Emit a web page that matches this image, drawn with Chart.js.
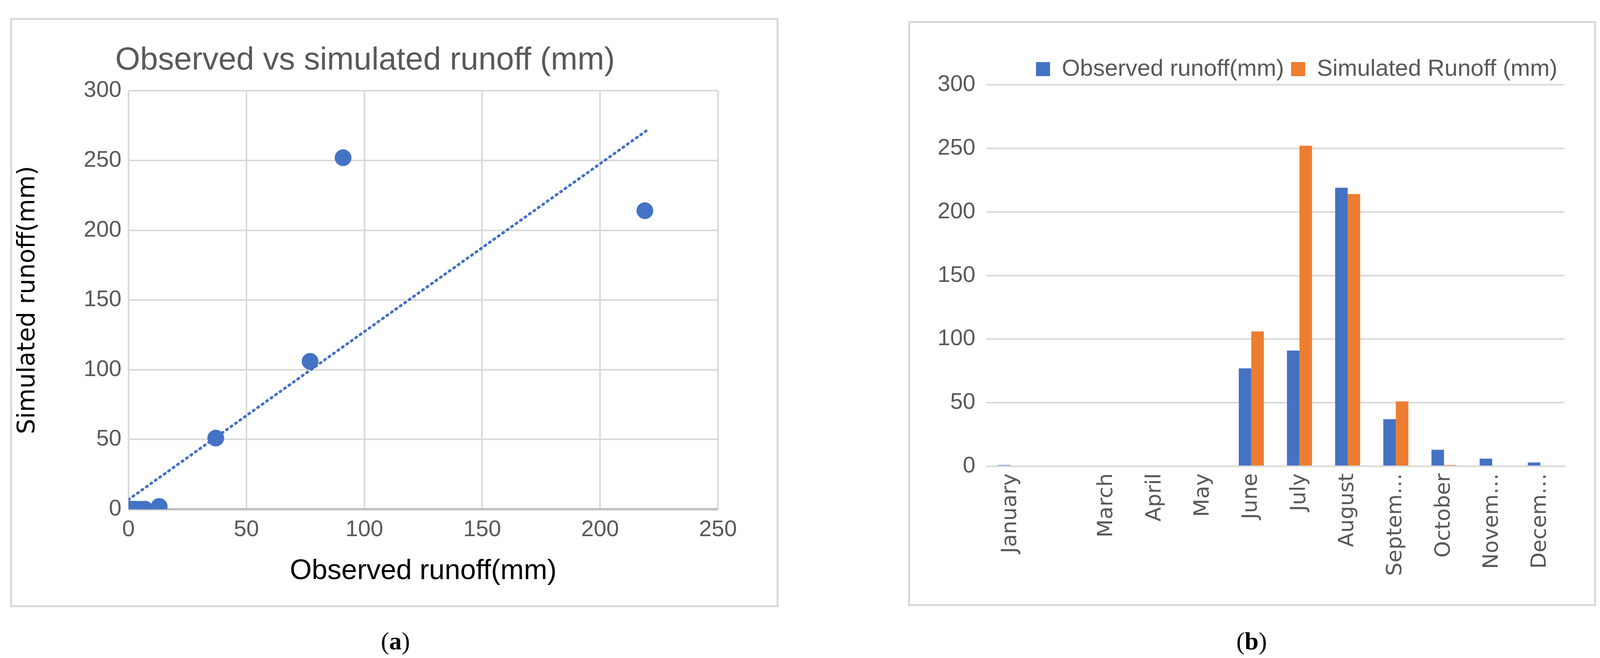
<!DOCTYPE html>
<html><head><meta charset="utf-8">
<script src="https://cdn.jsdelivr.net/npm/chart.js@4"></script>
<style>
body{margin:0;background:#fff;width:4108px;height:1685px;position:relative;overflow:hidden;font-family:"Liberation Serif",serif}
.box{position:absolute;border:5px solid #d9d9d9;box-sizing:border-box;background:#fff}
.box canvas{display:block}
.cap{position:absolute;font-size:64px;font-family:"Liberation Serif",serif}
</style></head><body>
<div class="box" style="left:26px;top:46px;width:1967px;height:1509px"><canvas id="a" width="1957" height="1499" style="width:1957px;height:1499px"></canvas></div>
<div class="box" style="left:2325px;top:54px;width:1761px;height:1498px"><canvas id="b" width="1751" height="1488" style="width:1751px;height:1488px"></canvas></div>
<div class="cap" style="left:975px;top:1605px">(<b>a</b>)</div>
<div class="cap" style="left:3165px;top:1605px">(<b>b</b>)</div>
<script>
const obsScatter=[0,0.5,1,2,3,5,7,13,37,77,91,219];
const simScatter=[0,0,0,0,0,0,0,2,51,106,252,214];
const trendX=[0,220];
const slope=1.2038, intercept=6.9235;
const months=["January","February","March","April","May","June","July","August","Septem…","October","Novem…","Decem…"];
const observed=[1,0,0,0,0,77,91,219,37,13,6,3];
const simulated=[0,0,0,0,0,106,252,214,51,1,0,0];

const F='"Liberation Sans Narrow","Liberation Sans",Arial,sans-serif';
const grey='#595959', grid='#d9d9d9';
Chart.defaults.animation=false;
Chart.defaults.devicePixelRatio=1;

new Chart(document.getElementById('a'),{
 type:'scatter',
 data:{datasets:[
  {data:obsScatter.map((x,i)=>({x:x,y:simScatter[i]})),backgroundColor:'#4472c4',borderColor:'#4472c4',pointRadius:21,pointHoverRadius:21},
  {type:'line',data:trendX.map(x=>({x:x,y:slope*x+intercept})),borderColor:'#4472c4',borderWidth:7,borderDash:[3,11],borderCapStyle:'round',pointRadius:0,fill:false}
 ]},
 options:{responsive:false,maintainAspectRatio:false,
  layout:{padding:{left:0,right:150,top:0,bottom:40}},
  plugins:{legend:{display:false},tooltip:{enabled:false},
   title:{display:true,text:'Observed vs simulated runoff (mm)',color:grey,font:{family:F,size:82,weight:'normal'},padding:{top:55,bottom:28}}},
  scales:{
   x:{type:'linear',min:0,max:250,ticks:{stepSize:50,color:grey,font:{family:F,size:58},padding:18},
      grid:{color:grid,lineWidth:4,drawTicks:false},border:{display:false},
      title:{display:true,text:'Observed runoff(mm)',color:'#000',font:{family:F,size:72},padding:{top:10}}},
   y:{min:0,max:300,ticks:{stepSize:50,color:grey,font:{family:F,size:58},padding:18},
      grid:{color:c=>c.tick.value===0?'#bfbfbf':grid,lineWidth:c=>c.tick.value===0?6:4,drawTicks:false},border:{display:false},
      title:{display:true,text:'Simulated runoff(mm)',color:'#000',font:{family:'"DejaVu Sans",sans-serif',size:62},padding:{bottom:10}},
      afterFit:s=>{s.width=298;}}
  }}
});

new Chart(document.getElementById('b'),{
 type:'bar',
 data:{labels:months,datasets:[
  {label:'Observed runoff(mm)',data:observed,backgroundColor:'#4472c4',barPercentage:1,categoryPercentage:0.52},
  {label:'Simulated Runoff (mm)',data:simulated,backgroundColor:'#ed7d31',barPercentage:1,categoryPercentage:0.52}
 ]},
 options:{responsive:false,maintainAspectRatio:false,
  layout:{padding:{left:0,right:76,top:70,bottom:0}},
  plugins:{tooltip:{enabled:false},
   legend:{display:true,position:'top',align:'end',labels:{color:grey,font:{family:F,size:60},boxWidth:36,boxHeight:36,padding:18}}},
  scales:{
   x:{ticks:{color:grey,font:{family:'"DejaVu Sans",sans-serif',size:54},minRotation:90,maxRotation:90,autoSkip:false,padding:10,
        callback:function(v,i){return i===1?'':this.getLabelForValue(v);}},
      grid:{display:false},border:{color:grid,width:4},
      afterFit:s=>{s.height=353;}},
   y:{min:0,max:300,ticks:{stepSize:50,color:grey,font:{family:F,size:58},padding:28},
      grid:{color:grid,lineWidth:4,drawTicks:false},border:{display:false},
      afterFit:s=>{s.width=195;}}
  }}
});
</script>
</body></html>
